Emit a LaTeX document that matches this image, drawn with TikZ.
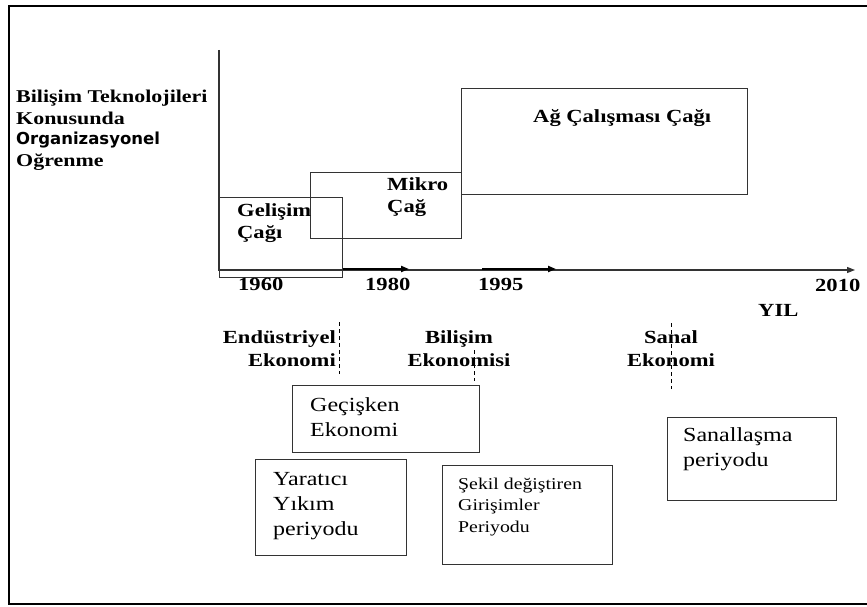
\documentclass[tikz,border=0pt]{standalone}
\usepackage{fontspec}
\setmainfont{Liberation Serif}
\newfontfamily\lblfont[FakeStretch=1.22]{Liberation Serif}
\newfontfamily\regfont[FakeStretch=1.2]{Liberation Serif}
\newfontfamily\orgfont{DejaVu Sans}
\usetikzlibrary{arrows.meta}
\definecolor{boxgray}{HTML}{333333}
\tikzset{
  lbl/.style={font=\lblfont\bfseries\fontsize{18.5}{22}\selectfont, inner sep=0pt, anchor=base west, align=left},
  lblc/.style={font=\lblfont\bfseries\fontsize{18.5}{23}\selectfont, inner sep=0pt, anchor=base, align=center},
  reg/.style={font=\regfont\fontsize{20}{25}\selectfont, inner sep=0pt, anchor=base west, align=left},
  regsmall/.style={font=\regfont\fontsize{16.5}{21.5}\selectfont, inner sep=0pt, anchor=base west, align=left},
  box/.style={draw=boxgray, line width=1.2pt, inner sep=0pt, anchor=north west},
  axisline/.style={draw=boxgray, line width=1.3pt},
  thickarrow/.style={draw=black, line width=2.2pt, -{Triangle[length=8pt,width=6pt]}},
  dashline/.style={draw=black, line width=1pt, dash pattern=on 4pt off 3pt},
}
\begin{document}
\begin{tikzpicture}[x=1pt,y=-1pt]
\useasboundingbox (0,0) rectangle (867,607);
% outer frame (open on the right)
\coordinate (ftr) at (867,6);
\coordinate (ftl) at (9,6);
\coordinate (fbl) at (9,604);
\coordinate (fbr) at (867,604);
\draw[line width=2.2pt, line join=miter] (ftr) -- (ftl) -- (fbl) -- (fbr);

% axes
\coordinate (vtop) at (219,50);
\coordinate (origin) at (219,270);
\coordinate (xend) at (855,270);
\draw[axisline, -{Triangle[length=8pt,width=6pt]}] (vtop) -- (origin) -- (xend);
\coordinate (a1s) at (342,269);
\coordinate (a1e) at (409,269);
\coordinate (a2s) at (482,269);
\coordinate (a2e) at (556,269);
\draw[thickarrow] (a1s) -- (a1e);
\draw[thickarrow] (a2s) -- (a2e);

% era boxes
\node[box, minimum width=123pt, minimum height=80pt] (gel) at (219,197) {};
\node[box, minimum width=151pt, minimum height=66pt] (mik) at (310,172) {};
\node[box, minimum width=286pt, minimum height=106pt] (ag) at (461,88) {};
\node[lbl] (geltxt) at (237,238) {Gelişim\\Çağı};
\node[lbl] (miktxt) at (387,212) {Mikro\\Çağ};
\node[lbl] (agtxt) at (533,123) {Ağ Çalışması Çağı};

% left title
\node[lbl, font=\lblfont\bfseries\fontsize{18}{21}\selectfont] (title) at (16,166)
  {Bilişim Teknolojileri\\Konusunda\\{\orgfont\fontsize{16.5}{21}\selectfont Organizasyonel}\\Oğrenme};

% years
\node[lbl] (y1960) at (238,290) {1960};
\node[lbl] (y1980) at (365,290) {1980};
\node[lbl] (y1995) at (478,290) {1995};
\node[lbl] (y2010) at (815,291) {2010};
\node[lbl] (yil) at (758,316) {YIL};

% economies
\node[lbl, align=right, anchor=base east, font=\lblfont\bfseries\fontsize{18.5}{23}\selectfont] (endu) at (336,366) {Endüstriyel\\Ekonomi};
\node[lblc] (bilis) at (459,366) {Bilişim\\Ekonomisi};
\node[lblc] (sanal) at (671,366) {Sanal\\Ekonomi};
\coordinate (d1a) at (339,322);
\coordinate (d1b) at (339,374);
\coordinate (d2a) at (474,350);
\coordinate (d2b) at (474,381);
\coordinate (d3a) at (671,323);
\coordinate (d3b) at (671,389);
\draw[dashline] (d1a) -- (d1b);
\draw[dashline] (d2a) -- (d2b);
\draw[dashline] (d3a) -- (d3b);

% period boxes
\node[box, minimum width=187pt, minimum height=67pt] (gec) at (292,385) {};
\node[reg] (gectxt) at (310,436) {Geçişken\\Ekonomi};
\node[box, minimum width=151pt, minimum height=96pt] (yar) at (255,459) {};
\node[reg] (yartxt) at (273,535) {Yaratıcı\\Yıkım\\periyodu};
\node[box, minimum width=170pt, minimum height=99pt] (sek) at (442,465) {};
\node[regsmall] (sektxt) at (458,532) {Şekil değiştiren\\Girişimler\\Periyodu};
\node[box, minimum width=169pt, minimum height=83pt] (san) at (667,417) {};
\node[reg] (santxt) at (683,466) {Sanallaşma\\periyodu};
\end{tikzpicture}
\end{document}
